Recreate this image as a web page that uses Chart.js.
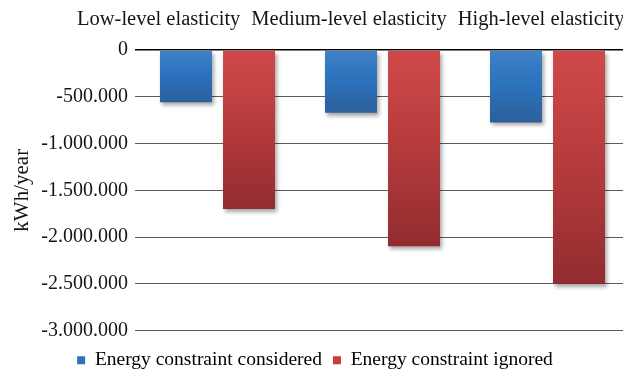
<!DOCTYPE html>
<html>
<head>
<meta charset="utf-8">
<script src="https://cdn.jsdelivr.net/npm/chart.js@4.4.1/dist/chart.umd.min.js"></script>
<style>
  html, body { margin: 0; padding: 0; background: #fff; overflow: hidden; }
  #wrap { width: 630px; height: 374px; }
</style>
</head>
<body>
<div id="wrap"><canvas id="c" width="630" height="374"></canvas></div>
<script>
// Annual energy change per elasticity scenario
const categories = ['Low-level elasticity', 'Medium-level elasticity', 'High-level elasticity'];
const seriesNames = ['Energy constraint considered', 'Energy constraint ignored'];
const considered = [-560000, -670000, -775000];
const ignored = [-1700000, -2100000, -2500000];
const yTickValues = [0, -500000, -1000000, -1500000, -2000000, -2500000, -3000000];
const yTickLabels = ['0', '-500.000', '-1.000.000', '-1.500.000', '-2.000.000', '-2.500.000', '-3.000.000'];

const FONT = "'Liberation Serif', 'DejaVu Serif', serif";
const TEXT = '#151515';

const palettes = [
  { stops: ['#4182c5', '#2b73be', '#2c609c'], legend: '#2f72bb' },
  { stops: ['#d04949', '#b83c3d', '#922c30'], legend: '#c63f3f' }
];

// vertical gradient running from the zero line to the end of each bar
function barFill(dsIndex) {
  return (ctx) => {
    const chart = ctx.chart;
    const p = palettes[dsIndex];
    if (!chart.chartArea || ctx.type !== 'data') return p.stops[1];
    const y = chart.scales.y;
    const top = y.getPixelForValue(0);
    const bottom = y.getPixelForValue(ctx.raw);
    const g = chart.ctx.createLinearGradient(0, top, 0, bottom);
    g.addColorStop(0, p.stops[0]);
    g.addColorStop(0.45, p.stops[1]);
    g.addColorStop(1, p.stops[2]);
    return g;
  };
}

// soft drop shadow under the bars
const barShadow = {
  id: 'barShadow',
  beforeDatasetsDraw(chart) {
    const c = chart.ctx;
    c.save();
    c.shadowColor = 'rgba(0,0,0,0.35)';
    c.shadowBlur = 4;
    c.shadowOffsetX = 2;
    c.shadowOffsetY = 3;
  },
  afterDatasetsDraw(chart) {
    chart.ctx.restore();
  }
};

// legend row sits a little lower, close to the bottom edge
const legendDrop = {
  id: 'legendDrop',
  afterLayout(chart) {
    const lg = chart.legend;
    if (lg) { lg.top += 9; lg.bottom += 9; }
  }
};

// category names packed in one row above the plot
const categoryRow = {
  id: 'categoryRow',
  afterDraw(chart) {
    const c = chart.ctx;
    c.save();
    c.font = "20.5px " + FONT;
    c.fillStyle = TEXT;
    c.textBaseline = 'alphabetic';
    c.textAlign = 'left';
    let x = chart.chartArea.left - 58;
    const gap = 11;
    categories.forEach((label) => {
      c.fillText(label, x, 25);
      x += c.measureText(label).width + gap;
    });
    c.restore();
  }
};

new Chart(document.getElementById('c'), {
  type: 'bar',
  data: {
    labels: categories,
    datasets: [
      { label: seriesNames[0], data: considered, backgroundColor: barFill(0), borderWidth: 0 },
      { label: seriesNames[1], data: ignored, backgroundColor: barFill(1), borderWidth: 0 }
    ]
  },
  options: {
    responsive: false,
    devicePixelRatio: 1,
    animation: false,
    categoryPercentage: 0.764,
    barPercentage: 0.825,
    layout: { padding: { top: 50, right: 0, left: 0, bottom: 3 } },
    plugins: {
      tooltip: { enabled: false },
      legend: {
        position: 'bottom',
        labels: {
          boxWidth: 8,
          boxHeight: 8,
          padding: 11,
          color: TEXT,
          font: { family: FONT, size: 19.5 },
          generateLabels: () => seriesNames.map((t, i) => ({
            text: t,
            fillStyle: palettes[i].legend,
            strokeStyle: palettes[i].legend,
            lineWidth: 0,
            hidden: false,
            datasetIndex: i
          }))
        }
      }
    },
    scales: {
      x: { display: false },
      y: {
        min: -3000000,
        max: 0,
        afterBuildTicks(scale) {
          scale.ticks = yTickValues.map(v => ({ value: v }));
        },
        afterFit(scale) { scale.width = 135; },
        border: { display: false },
        grid: {
          drawTicks: false,
          color: (ctx) => ctx.tick && ctx.tick.value === 0 ? '#000' : '#5c5c5c',
          lineWidth: (ctx) => ctx.tick && ctx.tick.value === 0 ? 1.5 : 1
        },
        ticks: {
          padding: 7,
          color: TEXT,
          font: { family: FONT, size: 20 },
          callback: (v) => yTickLabels[yTickValues.indexOf(v)]
        },
        title: {
          display: true,
          text: 'kWh/year',
          color: TEXT,
          font: { family: FONT, size: 21 },
          padding: { top: 10, bottom: 0 }
        }
      }
    }
  },
  plugins: [barShadow, legendDrop, categoryRow]
});
</script>
</body>
</html>
